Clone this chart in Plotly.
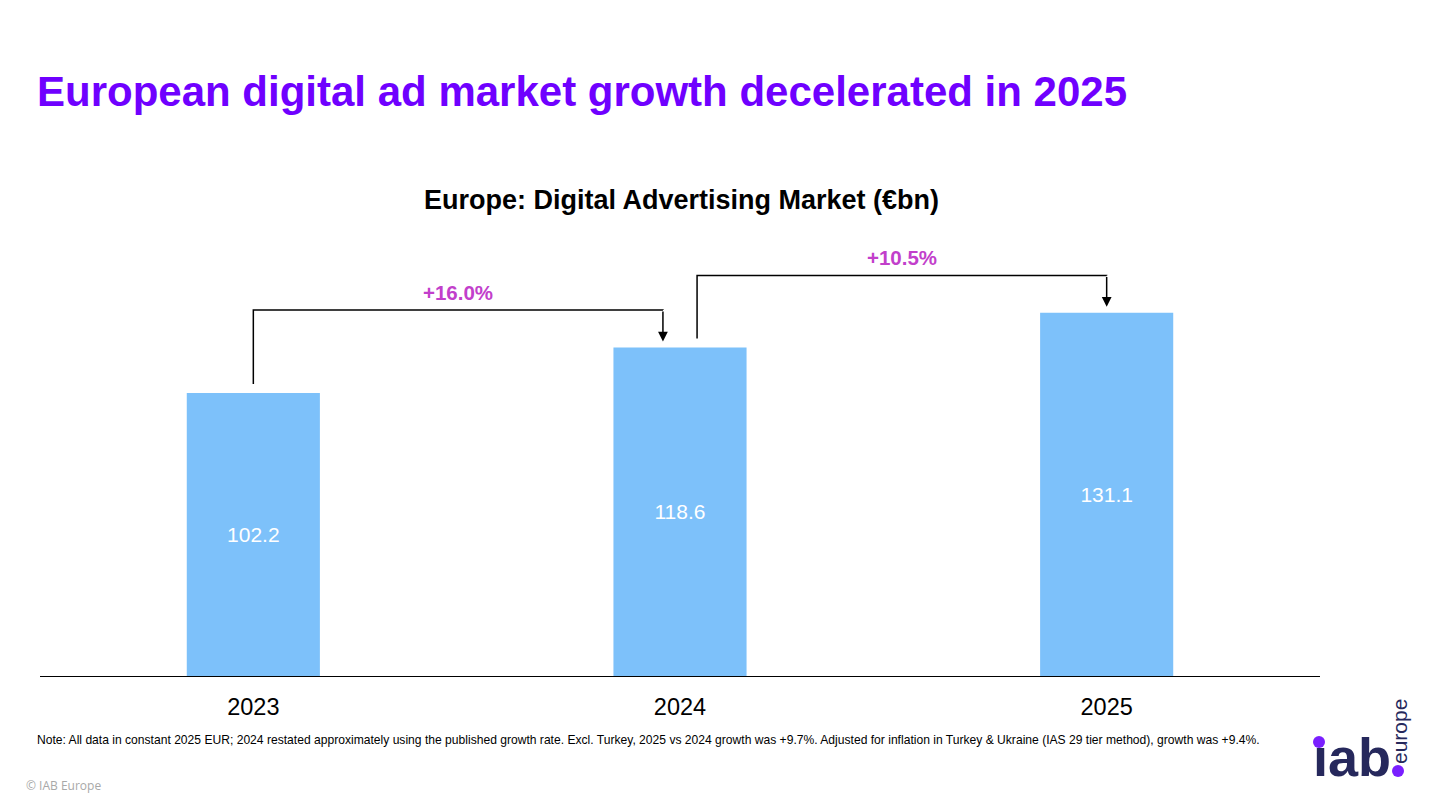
import plotly.graph_objects as go

# ---- data ----
years = ["2023", "2024", "2025"]
market_bn = [102.2, 118.6, 131.1]
growth_labels = ["+16.0%", "+10.5%"]

title_text = "European digital ad market growth decelerated in 2025"
chart_title = "Europe: Digital Advertising Market (€bn)"
note_text = ("Note: All data in constant 2025 EUR; 2024 restated approximately using the published growth rate. "
             "Excl. Turkey, 2025 vs 2024 growth was +9.7%. Adjusted for inflation in Turkey & Ukraine "
             "(IAS 29 tier method), growth was +9.4%.")

# ---- layout constants ----
OFF = 8  # page offset of the figure inside the window
W, H = 1433 - OFF, 803 - OFF
ML, MR, MT, MB = 40 - OFF, 113, 180 - OFF, 127
PW, PH = W - ML - MR, H - MT - MB
PX_PER_UNIT = 2.77
Y_TOP = PH / PX_PER_UNIT

FONT = "Liberation Sans, Arial, sans-serif"
BAR_COLOR = "#7DC1FA"
PURPLE = "#6F00FF"
MAGENTA = "#C23FCB"
NAVY = "#26285C"
LOGO_PURPLE = "#7A1FFF"


def px_x(px):
    return (px - OFF - ML) / PW


def px_y(py):
    return (H - MB - (py - OFF)) / PH


xs = list(range(len(years)))

fig = go.Figure()
fig.add_trace(go.Bar(
    x=xs, y=market_bn, width=0.312,
    marker=dict(color=BAR_COLOR, line=dict(width=0)),
    text=[f"{v:.1f}" for v in market_bn],
    textposition="inside", insidetextanchor="middle", textangle=0,
    textfont=dict(family=FONT, size=21, color="white"),
    hoverinfo="skip",
))

shapes = []
annotations = []

# growth brackets
GAP_START, GAP_END, LIFT, XOFF = 3.2, 2.2, 13.5, 0.04
for i, lab in enumerate(growth_labels):
    j = i + 1
    x0 = xs[i] + (XOFF if i > 0 else 0)
    x1 = xs[j] - (XOFF if j < len(xs) - 1 else 0)
    y0 = market_bn[i] + GAP_START
    level = max(market_bn[i], market_bn[j]) + LIFT
    tip = market_bn[j] + GAP_END
    shapes.append(dict(type="path", xref="x", yref="y",
                       path=f"M {x0},{y0} L {x0},{level} L {x1},{level} L {x1},{level - 0.01}",
                       line=dict(color="black", width=1.5)))
    annotations.append(dict(x=x1, y=tip, ax=x1, ay=level, xref="x", yref="y",
                            axref="x", ayref="y", showarrow=True, arrowhead=2,
                            arrowsize=1.3, arrowwidth=1.5, arrowcolor="black",
                            standoff=0, text=""))
    annotations.append(dict(x=(x0 + x1) / 2, y=level, xref="x", yref="y",
                            yanchor="bottom", yshift=4, showarrow=False,
                            text=f"<b>{lab}</b>",
                            font=dict(family=FONT, size=20.5, color=MAGENTA)))

# titles & notes
annotations += [
    dict(x=px_x(35), y=px_y(92), xref="paper", yref="paper", xanchor="left", yanchor="middle",
         showarrow=False, text=f"<b>{title_text}</b>",
         font=dict(family=FONT, size=42, color=PURPLE)),
    dict(x=px_x(681), y=px_y(200), xref="paper", yref="paper", xanchor="center", yanchor="middle",
         showarrow=False, text=f"<b>{chart_title}</b>",
         font=dict(family=FONT, size=27, color="black")),
    dict(x=px_x(35), y=px_y(740), xref="paper", yref="paper", xanchor="left", yanchor="middle",
         showarrow=False, text=note_text,
         font=dict(family=FONT, size=12.1, color="black")),
    dict(x=px_x(24), y=px_y(785), xref="paper", yref="paper", xanchor="left", yanchor="middle",
         showarrow=False, text="© IAB Europe",
         font=dict(family="Open Sans, sans-serif", size=12, color="#A8A8A8")),
    # logo
    dict(x=px_x(1311), y=px_y(779), xref="paper", yref="paper", xanchor="left", yanchor="bottom",
         yshift=-10, showarrow=False, text="<b>ıab</b>",
         font=dict(family="Liberation Sans, Arial, sans-serif", size=54, color=NAVY)),
    dict(x=px_x(1399), y=px_y(732), xref="paper", yref="paper", xanchor="center", yanchor="middle",
         textangle=-90, showarrow=False, text="europe",
         font=dict(family="Liberation Sans, Arial, sans-serif", size=21, color=NAVY)),
]


def circle(cx, cy, r, color):
    return dict(type="circle", xref="paper", yref="paper",
                x0=px_x(cx - r), x1=px_x(cx + r), y0=px_y(cy + r), y1=px_y(cy - r),
                fillcolor=color, line=dict(width=0))


shapes += [circle(1319, 742, 6, LOGO_PURPLE), circle(1398, 771, 6, LOGO_PURPLE)]

fig.update_layout(
    width=W, height=H,
    margin=dict(l=ML, r=MR, t=MT, b=MB),
    paper_bgcolor="white", plot_bgcolor="white",
    showlegend=False,
    xaxis=dict(range=[-0.5, len(years) - 0.5], tickvals=xs, ticktext=years,
               showgrid=False, zeroline=False, showline=True, linecolor="black", linewidth=1.3,
               ticks="", ticklabelstandoff=10,
               tickfont=dict(family=FONT, size=23.5, color="black"), fixedrange=True),
    yaxis=dict(range=[0, Y_TOP], visible=False, showgrid=False, zeroline=False, fixedrange=True),
    shapes=shapes,
    annotations=annotations,
)

fig.write_html("out.html")
